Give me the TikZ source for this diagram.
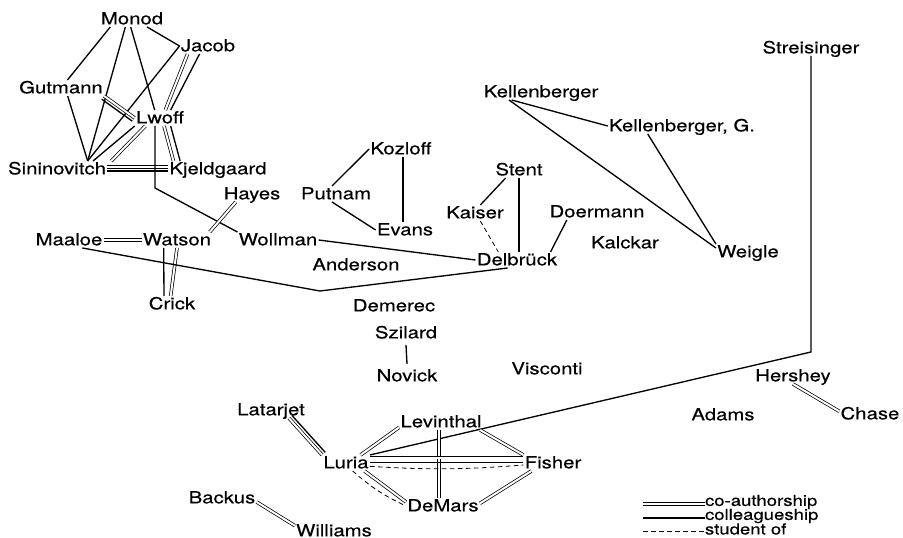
\documentclass[tikz,border=0pt]{standalone}
\usepackage{fontspec}
\setmainfont{TeX Gyre Heros}[FakeStretch=1.22,FakeBold=0.4]
\tikzset{
  person/.style={inner sep=1pt, outer sep=0pt, text height=9pt, text depth=1pt,
    font=\fontsize{12.5}{14}\selectfont},
  keytext/.style={inner sep=0pt, outer sep=0pt, anchor=west,
    font=\fontsize{11.4}{12}\selectfont},
  colleague/.style={line width=1pt},
  coauth/.style={double, line width=0.55pt, double distance=1.5pt},
  student/.style={line width=0.6pt, dash pattern=on 3.5pt off 2.5pt},
}

\begin{document}
\begin{tikzpicture}[x=0.75pt, y=-0.75pt]
  \useasboundingbox (0,0) rectangle (903,538);
  % pasteur people
  \node[person] (monod) at (132,19) {Monod};
  \node[person] (jacob) at (208,46) {Jacob};
  \node[person] (gutmann) at (61,88) {Gutmann};
  \node[person] (lwoff) at (160,118) {Lwoff};
  \node[person] (sininovitch) at (57,169) {Sininovitch};
  \node[person] (kjeldgaard) at (218,169) {Kjeldgaard};
  \node[person] (hayes) at (252,194) {Hayes};
  \node[person] (maaloe) at (69,240) {Maaloe};
  \node[person] (watson) at (177,240) {Watson};
  \node[person] (wollman) at (278,240) {Wollman};
  \node[person] (crick) at (172,304) {Crick};
  % middle
  \node[person] (anderson) at (356,265) {Anderson};
  \node[person] (kozloff) at (401,149) {Kozloff};
  \node[person] (putnam) at (336,194) {Putnam};
  \node[person] (evans) at (405,230) {Evans};
  \node[person] (stent) at (519,170) {Stent};
  \node[person] (kaiser) at (475,213) {Kaiser};
  \node[person] (doermann) at (597,212) {Doermann};
  \node[person] (delbruck) at (517,260) {Delbrück};
  \node[person] (kalckar) at (625,243) {Kalckar};
  \node[person] (demerec) at (394,306) {Demerec};
  \node[person] (szilard) at (406,333) {Szilard};
  \node[person] (novick) at (407,376) {Novick};
  \node[person] (visconti) at (547,369) {Visconti};
  % right
  \node[person] (kellenberger) at (541,92) {Kellenberger};
  \node[person] (kellenbergerg) at (682,126) {Kellenberger, G.};
  \node[person] (weigle) at (748,252) {Weigle};
  \node[person] (streisinger) at (811,48) {Streisinger};
  \node[person] (hershey) at (793,376) {Hershey};
  \node[person] (adams) at (723,415) {Adams};
  \node[person] (chase) at (870,414) {Chase};
  % luria group
  \node[person] (latarjet) at (271,410) {Latarjet};
  \node[person] (levinthal) at (441,422) {Levinthal};
  \node[person] (luria) at (346,463) {Luria};
  \node[person] (fisher) at (553,463) {Fisher};
  \node[person] (demars) at (443,506) {DeMars};
  \node[person] (backus) at (222,498) {Backus};
  \node[person] (williams) at (334,531) {Williams};

  % links round lwoff
  \coordinate (sinpt) at ([xshift=23pt]sininovitch.north);
  \draw[colleague] ([xshift=8pt]monod.south west) -- (gutmann);
  \draw[colleague] ([xshift=-5pt]monod.south) -- (sinpt);
  \draw[colleague] ([xshift=-1pt]monod.south) -- ([xshift=-4pt]lwoff.north);
  \draw[colleague] ([xshift=-13pt]monod.south east) -- (jacob.west);
  \draw[colleague] (jacob.west) -- (sinpt);
  \draw[colleague] ([xshift=5pt]gutmann.south) -- (sinpt);
  \draw[coauth] (gutmann.south east) -- (lwoff.west);
  \draw[colleague] ([xshift=-1.8pt,yshift=-2.4pt]gutmann.south east) -- ([xshift=-1.8pt,yshift=-2.4pt]lwoff.west);
  \draw[coauth] ([xshift=6pt]jacob.south west) -- ([xshift=4pt]lwoff.north);
  \draw[colleague] ([xshift=15pt]jacob.south west) -- ([xshift=8pt]lwoff.north);
  \draw[colleague] (lwoff.south west) -- ([xshift=4pt]sinpt);
  \draw[coauth] ([xshift=8pt]lwoff.south west) -- ([xshift=3pt]sininovitch.north east);
  \draw[coauth] ([xshift=3pt]lwoff.south) -- ([xshift=4pt]kjeldgaard.north west);
  \draw[colleague] ([xshift=8pt]lwoff.south) -- ([xshift=9pt]kjeldgaard.north west);
  \draw[coauth] ([yshift=1.5pt]sininovitch.east) -- ([yshift=1.5pt]kjeldgaard.west);
  \draw[colleague] ([yshift=-1.5pt]sininovitch.east) -- ([yshift=-1.5pt]kjeldgaard.west);
  \coordinate (bendLW) at (155,188);
  \draw[colleague] (lwoff.south -| bendLW) -- (bendLW) -- (wollman.north west);
  % watson and friends
  \draw[coauth] ([xshift=10pt]hayes.south west) -- ([xshift=-2pt]watson.north east);
  \draw[coauth] (maaloe.east) -- (watson.west);
  \draw[colleague] ([xshift=-10pt]watson.south) -- ([xshift=-6pt]crick.north);
  \draw[coauth] (watson.south) -- ([xshift=-1pt]crick.north);
  \coordinate (bendMD) at (320,291);
  \draw[colleague] ([xshift=10pt]maaloe.south) -- (bendMD) -- ([xshift=-7pt]delbruck.south);
  \draw[colleague] (wollman.east) -- (delbruck.west);
  % delbrueck and others
  \draw[colleague] ([xshift=-3pt]putnam.north) -- (kozloff.west);
  \draw[colleague] ([xshift=1.5pt]kozloff.south) -- ([xshift=-1.5pt]evans.north);
  \draw[colleague] ([xshift=-3pt]putnam.south) -- (evans.west);
  \draw[colleague] ([xshift=-10pt]stent.south) -- ([xshift=4pt]kaiser.north);
  \draw[colleague] (stent.south) -- (stent.south |- delbruck.north);
  \draw[student] ([xshift=4pt]kaiser.south) -- ([xshift=-14pt]delbruck.north);
  \draw[colleague] ([xshift=14pt]doermann.south west) -- ([xshift=-6pt]delbruck.north east);
  \draw[colleague] ([yshift=-3pt]szilard.south) -- ([yshift=3pt]novick.north);
  % geneva
  \draw[colleague] ([xshift=-22pt]kellenberger.south) -- (kellenbergerg.west);
  \draw[colleague] ([xshift=-24pt]kellenberger.south) -- ([yshift=3pt]weigle.west);
  \draw[colleague] ([xshift=30pt]kellenbergerg.south west) -- (weigle.north west);
  % cold spring harbor
  \coordinate (bendSL) at (811,352);
  \draw[colleague] (streisinger.south) -- (bendSL) -- (luria.north east);
  \draw[coauth] (hershey.south) -- ([yshift=2pt]chase.west);
  % luria group
  \draw[coauth] ([xshift=-13pt]latarjet.south east) -- (luria.north west);
  \draw[colleague] ([xshift=-10.7pt,yshift=2pt]latarjet.south east) -- ([xshift=2.3pt,yshift=2pt]luria.north west);
  \draw[coauth] ([xshift=-7pt]luria.north east) -- ([yshift=-4pt]levinthal.west);
  \draw[coauth] ([xshift=-1.5pt]levinthal.south) -- ([xshift=-3pt]demars.north);
  \draw[coauth] ([xshift=-2pt]levinthal.south east) -- (fisher.north west);
  \draw[coauth] ([yshift=4pt]luria.east) -- ([yshift=4pt]fisher.west);
  \draw[colleague] ([yshift=0.5pt]luria.east) -- ([yshift=0.5pt]fisher.west);
  \draw[student] ([yshift=-2.5pt]luria.east) to[bend right=4] ([yshift=-1.5pt]fisher.west);
  \draw[coauth] ([xshift=-4pt]luria.south east) -- ([yshift=3pt]demars.west);
  \draw[student] ([xshift=5pt]luria.south) to[bend right=8] (demars.west);
  \draw[coauth] ([xshift=6pt]fisher.south west) -- ([yshift=2pt]demars.east);
  \draw[coauth] ([yshift=-3pt]backus.east) -- ([yshift=4pt]williams.west);

  % key
  \node[keytext] (legco) at (705,502) {co-authorship};
  \node[keytext] (legcol) at (705,516) {colleagueship};
  \node[keytext] (legstu) at (705,529) {student of};
  \coordinate (keyco) at (643,504);
  \coordinate (keycol) at (643,518);
  \coordinate (keystu) at (643,531);
  \draw[coauth] (keyco) -- (keyco -| legco.west);
  \draw[colleague] (keycol) -- (keycol -| legcol.west);
  \draw[student] (keystu) -- (keystu -| legstu.west);
\end{tikzpicture}
\end{document}
